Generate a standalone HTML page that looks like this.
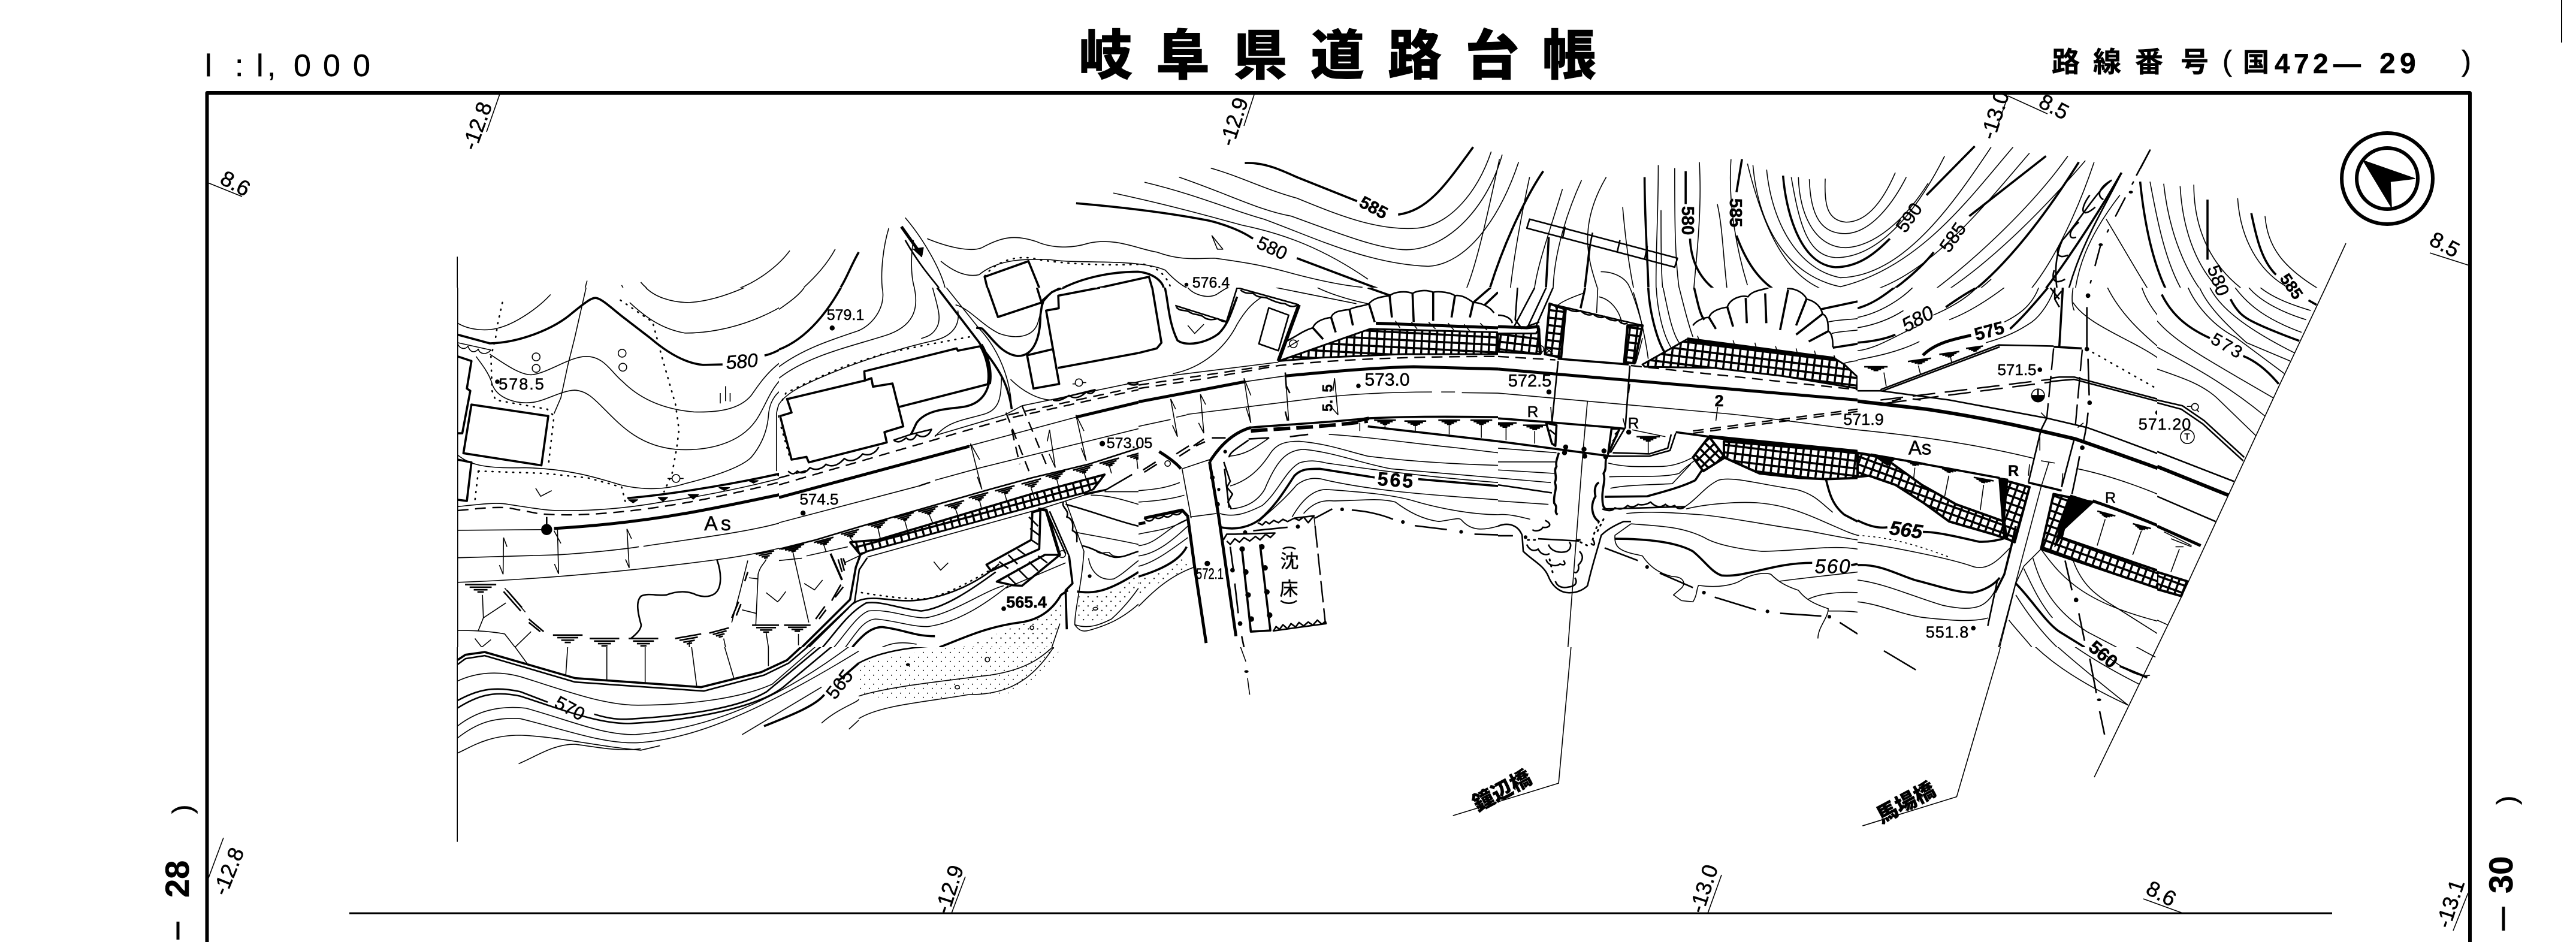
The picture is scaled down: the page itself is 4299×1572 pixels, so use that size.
<!DOCTYPE html>
<html><head><meta charset="utf-8"><style>
html,body{margin:0;padding:0;background:#fff}
svg{display:block}
path,line,polyline,polygon,ellipse,circle{vector-effect:non-scaling-stroke;fill:none;stroke:#000;stroke-width:1.6;stroke-linejoin:round}
.m{stroke-width:2.6}.h{stroke-width:3.6}.b{stroke-width:5}.d{stroke-width:2.4;stroke-dasharray:18 11}.dt{stroke-width:2.6;stroke-dasharray:1.5 10;stroke-linecap:round}
.dd{stroke-width:2.5;stroke-dasharray:34 26 4 26;stroke-linecap:round}
.k{fill:#000}
.me{stroke-width:3}
text{font-family:"Liberation Sans","Noto Sans CJK JP",sans-serif;fill:#000;stroke:#000;stroke-width:.5;text-anchor:middle;dominant-baseline:central}
.s{text-anchor:start;dominant-baseline:auto}
</style></head><body>
<svg xmlns="http://www.w3.org/2000/svg" width="4299" height="1572" viewBox="0 0 4299 1572">
<defs>
<clipPath id="ct"><rect x="0" y="0" width="4299" height="480"/></clipPath>
<clipPath id="cb"><rect x="0" y="1080" width="4299" height="492"/></clipPath>
<clipPath id="c0"><rect x="760" y="480" width="540" height="600"/></clipPath>
<clipPath id="c1"><rect x="1300" y="480" width="600" height="600"/></clipPath>
<clipPath id="c2"><rect x="1900" y="480" width="600" height="600"/></clipPath>
<clipPath id="c3"><rect x="2500" y="480" width="600" height="600"/></clipPath>
<clipPath id="c4"><rect x="3100" y="480" width="500" height="600"/></clipPath>
<clipPath id="c5"><rect x="3600" y="480" width="600" height="600"/></clipPath>
<pattern id="mA" width="12.5" height="12.5" patternUnits="userSpaceOnUse" patternTransform="scale(2.613) rotate(-15)"><path d="M0,0H12.5M0,0V12.5" style="stroke-width:7;vector-effect:none"/></pattern>
<pattern id="mB" width="12.5" height="12.5" patternUnits="userSpaceOnUse" patternTransform="scale(2.613) rotate(3)"><path d="M0,0H12.5M0,0V12.5" style="stroke-width:7;vector-effect:none"/></pattern>
<pattern id="mC" width="12.5" height="12.5" patternUnits="userSpaceOnUse" patternTransform="scale(2.613) rotate(7)"><path d="M0,0H12.5M0,0V12.5" style="stroke-width:7;vector-effect:none"/></pattern>
<pattern id="mD" width="12.5" height="12.5" patternUnits="userSpaceOnUse" patternTransform="scale(2.613) rotate(20)"><path d="M0,0H12.5M0,0V12.5" style="stroke-width:7;vector-effect:none"/></pattern>
<pattern id="mE" width="12.5" height="12.5" patternUnits="userSpaceOnUse" patternTransform="scale(2.613) rotate(45)"><path d="M0,0H12.5M0,0V12.5" style="stroke-width:7;vector-effect:none"/></pattern>
<pattern id="pd" width="15" height="15" patternUnits="userSpaceOnUse" patternTransform="scale(1.094,1.995)"><circle cx="3" cy="3" r="1" class="k" style="stroke:none"/><circle cx="10" cy="11" r="1" class="k" style="stroke:none"/></pattern>
<pattern id="pc" width="40" height="40" patternUnits="userSpaceOnUse"><circle cx="8" cy="8" r="3" class="k" style="stroke:none"/><circle cx="28" cy="28" r="3" class="k" style="stroke:none"/></pattern>
<g id="tk"><path d="M-34,0H34M-24,7H24M-15,14H15M-7,20H7" class="m"/></g>
</defs>
<rect width="4299" height="1572" fill="#fff"/>

<!-- frame -->
<path d="M345.5,1572V155H4122V1572" style="stroke-width:6"/>
<path d="M583,1524H3892" style="stroke-width:3"/>
<path d="M4275,0V71" style="stroke-width:2"/>

<!-- heading -->
<text class="s" x="342 392 428 446 490 539 589" y="127" font-size="52">l:l,000</text>
<text class="s" x="1800 1929 2058 2187 2316 2445 2574" y="124" font-size="90" font-weight="900">岐阜県道路台帳</text>
<text class="s" x="3424 3493 3563 3639" y="120" font-size="47" font-weight="700">路線番号</text>
<text class="s" x="3709" y="118" font-size="48">(</text>
<text class="s" x="3743" y="119" font-size="44" font-weight="700">国</text>
<text class="s" x="3796 3828 3860 3894" y="122" font-size="46" font-weight="700">472—</text>
<text class="s" x="3971 4005" y="122" font-size="48" font-weight="700">29</text>
<text class="s" x="4108" y="118" font-size="48">)</text>
<text transform="translate(315,1498) rotate(-90)" class="s" font-size="56" font-weight="700">28</text>
<text transform="translate(320,1358) rotate(-90)" class="s" font-size="46">)</text>
<path d="M297,1538V1568" class="b"/>
<text transform="translate(4193,1491) rotate(-90)" class="s" font-size="56" font-weight="700">30</text>
<text transform="translate(4199,1343) rotate(-90)" class="s" font-size="46">)</text>
<path d="M4178,1513V1553" class="b"/>

<!-- grid ticks -->
<path d="M834,157L812,220M347,305L404,328M2093,158L2076,210M3351,160L3333,212M3351,160L3417,190M4055,422L4121,443M373,1398L345,1473M1611,1463L1588,1524M2873,1460L2850,1524M3577,1500L3643,1524M4119,1490L4094,1553"/>
<g font-size="36">
<text transform="translate(796,210) rotate(-70)">-12.8</text>
<text transform="translate(393,306) rotate(28)">8.6</text>
<text transform="translate(2059,203) rotate(-72)">-12.9</text>
<text transform="translate(3329,192) rotate(-72)">-13.0</text>
<text transform="translate(3428,178) rotate(28)">8.5</text>
<text transform="translate(4080,408) rotate(28)">8.5</text>
<text transform="translate(381,1454) rotate(-68)">-12.8</text>
<text transform="translate(1584,1484) rotate(-72)">-12.9</text>
<text transform="translate(2843,1483) rotate(-72)">-13.0</text>
<text transform="translate(3607,1491) rotate(28)">8.6</text>
<text transform="translate(4089,1508) rotate(-72)">-13.1</text>
</g>

<!-- north arrow -->
<circle cx="3984" cy="298" r="76" style="stroke-width:6"/>
<circle cx="3984" cy="298" r="51" style="stroke-width:6"/>
<polygon points="3944,268 4030,298 3989,303 3991,346" class="k"/>

<!-- right boundary -->
<path d="M3915,406L3881,480L3803,645L3719,826L3640,997L3600,1080L3495,1297"/>

<g clip-path="url(#ct)">
<!-- Z1 -->
<g transform="translate(0,0) scale(.914,.501)">
<path d="M835,855V1000"/>
<path d="M1170,940C1190,985 1230,1005 1265,1005M1442,835C1420,890 1380,940 1350,960M1135,1000C1140,1000 1145,980 1135,950M1525,830C1510,880 1490,920 1468,957M1072,935C1068,960 1066,980 1062,1000"/>
<path class="h" d="M1568,840C1555,880 1545,930 1535,957"/>
</g>
<!-- Z2 -->
<g transform="translate(1433,0) scale(.914,.501)">
<path class="h" d="M705,543C740,540 770,565 800,590L910,670M985,715C1040,700 1070,620 1122,490M397,677C480,690 570,710 640,735C670,748 700,770 720,795M800,860L975,980M1250,570C1220,650 1180,800 1153,957M1510,570L1510,680M1518,795C1520,880 1540,930 1560,960M1260,790L1255,957M1335,820L1326,957M1435,590C1435,720 1440,850 1442,957"/>
<path d="M643,560C700,590 740,630 800,660C880,720 950,770 1020,760C1080,750 1130,640 1155,505M585,590C680,650 730,700 790,720C880,780 950,830 1000,832C1080,830 1150,680 1175,515M522,607C620,650 680,700 740,730C830,790 930,880 1040,887C1110,880 1170,730 1205,540M465,643C560,680 640,720 700,750C780,780 850,830 930,930M125,795C165,825 205,840 225,825C260,790 285,780 325,805C350,825 385,830 420,810C470,790 510,830 545,840C590,870 620,860 650,860C690,870 730,880 780,905C830,930 880,950 920,957M150,870C170,900 195,925 220,915C250,870 290,860 350,865C400,880 510,860 560,900C575,930 590,950 600,960M85,725C120,800 150,900 158,960M100,800C95,850 95,920 102,960M43,960C40,900 45,820 55,760M1225,590C1205,760 1195,880 1190,960M1285,630C1260,780 1240,880 1234,960M1320,600C1290,720 1270,850 1268,960M1365,590C1310,760 1335,880 1349,960M1355,905C1385,905 1405,935 1408,960M1395,690C1400,800 1408,900 1415,960M1460,550C1460,720 1455,850 1456,960M1490,560C1490,720 1490,850 1498,960M1465,700C1465,800 1465,900 1468,960M1535,540C1540,700 1530,850 1525,960M1170,530C1150,700 1130,870 1110,960"/>
<path class="dt" d="M230,920C250,870 290,845 330,865C380,880 450,885 520,880C550,890 565,930 570,960"/>
<path class="m" d="M1225,730L1495,860L1490,890L1220,760ZM1290,755L1285,795M1340,775L1335,820M1390,800L1385,840M1440,820L1435,865"/>
<path class="b" d="M78,755L115,850"/>
<polygon class="k" points="100,830 118,825 115,855"/>
<path class="m" d="M85,800C110,880 130,920 147,960"/>
<path class="h" d="M235,960L230,922L310,870L330,960M436,960L530,922L536,960M372,960C410,925 460,905 510,905C540,910 555,940 557,960"/>
<path d="M645,785L655,830L665,830Z"/>
</g>
<!-- Z3 -->
<g transform="translate(2866,0) scale(.914,.501)">
<path d="M325,575C300,680 270,740 235,740C200,735 195,680 197,595M345,590C320,680 280,775 235,778C190,780 170,720 168,597M385,610C340,740 285,820 235,825C180,825 150,720 148,590M415,520C360,720 290,860 215,858C165,850 150,750 135,590M500,490C430,680 340,920 225,925C150,900 100,750 90,565M540,490C460,660 370,890 225,955C130,920 75,760 65,550M570,510C480,700 370,960 240,985C160,970 100,880 55,545M212,1050C270,1080 330,1050 370,1000C450,900 570,700 640,520M212,1090C280,1085 350,1050 400,990C490,890 590,710 672,535M215,1120C300,1100 370,1040 420,990M235,1200C330,1150 430,1080 510,1055C570,1020 640,800 688,540M220,1170C300,1130 360,1090 410,1040C450,1000 470,980 500,930M0,680C10,760 10,850 20,1000M25,530C20,650 30,800 55,950"/>
<path class="h" d="M120,585C125,700 150,880 215,890C260,890 290,840 315,795M382,650L470,487M45,530L35,640M35,785C50,860 70,920 100,960M170,1000L250,1028C300,1010 370,900 395,840M460,720L600,520M420,1020C470,990 560,830 660,540M535,1095C590,1010 690,730 738,575"/>
<path class="m" d="M720,600C690,640 660,740 630,800C610,880 620,960 625,1020M720,600C700,620 690,650 705,665M680,650C660,700 665,730 690,690M660,740C640,770 640,800 655,790M630,800C615,840 620,865 640,850M615,900C610,930 615,950 635,930"/>
<path d="M735,650C680,780 650,900 650,1050M710,730C740,820 780,950 800,1000"/>
<path class="m" d="M738,575C700,720 630,900 625,1155"/>
<path class="dd" d="M790,500L750,640L700,815L675,985"/>
<path class="m" d="M790,500L765,585"/>
<circle cx="755" cy="640" r="3" class="k"/><circle cx="700" cy="815" r="3" class="k"/>
<path class="h" d="M772,605C780,750 800,950 850,1050M895,665L895,865M940,1005C960,1060 1010,1090 1062,1135M975,710C985,800 995,870 1020,915"/>
<path d="M790,605C810,800 830,980 900,1080M815,612C825,780 860,950 920,1040M845,620C850,780 880,940 960,1030M870,615C870,760 900,900 980,990M950,660C955,800 990,900 1035,950C1060,980 1085,1020 1090,1040M1000,720C1005,820 1030,890 1105,970"/>
<path class="m" d="M1097,985L1085,1025"/>
</g>
</g>

<text transform="translate(2292,347) rotate(28)" font-size="29" font-weight="700">585</text>
<text transform="translate(2123,414) rotate(25)" font-size="31">580</text>
<text x="2021" y="472" font-size="25">576.4</text><circle cx="1980" cy="475" r="2.5" class="k"/>
<text transform="translate(2816,368) rotate(90)" font-size="29" font-weight="700">580</text>
<text transform="translate(3186,363) rotate(-55)" font-size="31">590</text>
<text transform="translate(3259,396) rotate(-55)" font-size="31">585</text>
<text transform="translate(2896,355) rotate(90)" font-size="29" font-weight="700">585</text>
<text transform="translate(3702,468) rotate(70)" font-size="31">580</text>
<text transform="translate(3824,478) rotate(55)" font-size="27" font-weight="700">585</text>

<!-- C0 -->
<g clip-path="url(#c0)"><g transform="translate(760,480) scale(.3827)">
<path d="M10,0V1568"/>
<path d="M10,155C60,185 130,190 180,178C260,160 360,90 415,30M830,0C870,40 940,65 1020,65C1100,60 1180,35 1260,0M760,65C830,130 900,180 1000,198C1200,200 1420,110 1530,0M150,290C210,330 280,380 330,380C400,375 500,300 570,300C650,300 680,370 730,410C800,480 900,530 1040,542C1150,545 1240,530 1290,470C1340,400 1400,300 1568,255M90,300C120,340 150,380 160,420C180,480 260,510 340,500C400,490 460,450 520,447C570,450 600,480 640,520C720,600 800,690 960,705C1100,715 1240,680 1310,580C1360,510 1380,400 1480,360L1568,335M10,730C60,770 120,790 300,785C500,790 620,830 720,860C820,885 920,880 1000,855C1100,830 1240,790 1290,740C1340,680 1360,620 1365,560C1370,480 1410,420 1568,390M1400,800L1400,550C1410,490 1430,470 1500,420L1568,395M570,0L520,220L490,340L460,480L430,550"/>
<path class="h" d="M10,205L150,243C280,240 430,180 510,110C560,70 590,45 610,45C630,45 660,70 720,120L850,220C920,280 1000,330 1080,337L1165,335M1348,296C1400,285 1480,240 1568,150"/>
<path class="dt" d="M205,65L185,155L175,220L155,300L160,450L175,490L400,530L430,560L405,780M720,55L860,150L900,300L960,510L975,620L965,700L945,810L910,890M100,800L390,810L580,830L725,870L745,950M100,800L85,930M1410,560L1445,770"/>
<circle cx="352" cy="302" r="17"/><circle cx="352" cy="352" r="17"/><circle cx="727" cy="286" r="17"/><circle cx="730" cy="347" r="17"/><circle cx="962" cy="832" r="17"/>
<path d="M925,832H945M980,832H995"/>
<path d="M10,245C20,270 45,270 55,255C65,285 85,285 100,268C105,290 135,295 155,272L10,240"/>
<path class="h" d="M10,300L70,320L50,440L65,450L30,635L10,635M70,510L405,560L375,775L35,722ZM10,750L70,762L50,930L10,925M1568,460L1448,485L1465,545L1418,565L1465,748L1530,735L1540,755L1568,750"/>
<path d="M1155,460V505M1178,430V495M1198,460V497"/>
<path d="M10,955C100,945 180,935 230,945C300,955 380,970 440,972C600,975 760,960 900,935C1150,900 1400,840 1568,790"/>
<path class="d" d="M10,972C90,965 160,955 230,960L360,985C400,990 470,992 540,990C700,985 900,960 1100,920C1300,880 1450,840 1568,805"/>
<path class="b" d="M430,1050C600,1040 800,1020 1000,985C1200,950 1400,905 1568,870"/>
<path d="M10,1058L395,1055M10,1178L450,1165C600,1155 740,1140 800,1130M820,1128C1000,1100 1250,1070 1400,1030C1480,1010 1520,1000 1568,985M10,1285C300,1275 700,1245 1150,1185C1300,1165 1450,1130 1568,1095"/>
<circle cx="398" cy="1055" r="22" class="k"/><path class="m" d="M398,1000V1040"/>
<path d="M210,1090L208,1250M210,1090L225,1130M208,1250L192,1210M445,1050L450,1248M430,1060L460,1115M450,1248L432,1205M748,1052L758,1222M748,1052L768,1095M758,1222L742,1185"/>
<path d="M350,875L372,910L420,885M1355,1330L1405,1370L1445,1325M1520,1285L1568,1320M85,1530L115,1568L155,1535"/>
<path class="h" d="M750,918C900,905 1150,870 1420,810"/>
<path class="k" d="M755,925H795L775,938ZM885,915H925L905,932ZM1015,902H1060L1037,922ZM1150,872H1195L1172,884ZM1280,842H1320L1300,852ZM1400,815H1440L1418,825Z"/>
<path d="M1450,805C1460,820 1475,820 1490,800C1500,815 1520,810 1530,790L1568,780"/>
<path class="m" d="M1140,1185C1160,1240 1165,1310 1130,1335C1100,1355 1060,1345 1040,1335C1000,1320 960,1325 920,1340C880,1345 840,1330 810,1345C790,1365 790,1400 810,1470C810,1490 790,1510 765,1530"/>
<path d="M1275,1190L1240,1330L1205,1460M1250,1405L1310,1420M1280,1265L1320,1270M1310,1470L1320,1250C1330,1210 1350,1200 1355,1185M1475,1140L1540,1470"/>
<path class="m" d="M1262,1280L1275,1240M1225,1430L1245,1380M1205,1440L1235,1370"/>
<use href="#tk" transform="translate(110,1295) scale(2,1.6)"/><use href="#tk" transform="translate(490,1515) scale(1.9,1.6)"/><use href="#tk" transform="translate(650,1530) scale(1.9,1.6)"/><use href="#tk" transform="translate(820,1530) scale(1.9,1.6)"/><use href="#tk" transform="translate(1015,1520) rotate(-10) scale(1.7,1.6)"/><use href="#tk" transform="translate(1150,1495) rotate(-15) scale(1.3,1.4)"/><use href="#tk" transform="translate(1355,1472) scale(1.8,1.5)"/><use href="#tk" transform="translate(1495,1470) scale(1.8,1.5)"/><use href="#tk" transform="translate(1350,1155) rotate(-10) scale(1.2,1.2)"/><use href="#tk" transform="translate(1465,1128) rotate(-15) scale(1.4,1.2)"/>
<path d="M118,1340L122,1440L100,1495M122,1440L220,1375M215,1310L305,1415M10,1495C50,1495 130,1495 215,1510L260,1568L330,1500M1355,1505L1365,1568M1495,1505V1568M1170,1530L1178,1568M1020,1540V1568"/>
<path class="m" d="M210,1325L285,1410M225,1320L290,1395M320,1445L385,1500M320,1460L370,1500"/>
<path class="h" d="M1500,1568L1568,1500"/>
<circle cx="1518" cy="982" r="8" class="k"/>
</g></g>

<!-- C1 -->
<g clip-path="url(#c1)"><g transform="translate(1300,480) scale(.3827)">
<polygon points="310,1110 430,1100 1100,900 1420,815 1370,880 1330,895 1140,945 385,1150 355,1165" style="fill:url(#mA);stroke-width:3"/>
<path class="h" d="M270,0C220,90 130,220 0,270"/>
<path d="M0,95C50,60 90,30 110,0M450,0C470,90 400,170 340,190C220,230 100,270 0,345M590,0C610,90 590,170 460,210C300,260 120,300 0,395M780,100C790,160 760,210 680,230C500,270 260,350 100,430C40,460 10,490 0,510M670,0C690,80 710,130 690,170C670,210 640,215 620,222"/>
<path class="dt" d="M830,215L640,250L450,290L280,345L120,415L30,460L5,510M10,610L50,750"/>
<path class="h" d="M690,0L870,235L900,280"/>
<path class="b" style="stroke-width:7" d="M880,250C910,300 925,370 915,420"/>
<path class="h" d="M915,420C900,480 860,515 790,522C720,530 640,535 600,590C590,610 585,625 575,640M860,175L885,178C930,220 970,290 1040,298C1110,300 1140,220 1140,120L1150,55L1190,20L1230,0M900,280C960,360 1000,420 1015,530"/>
<path d="M730,0L870,175C960,270 1010,400 1015,530M770,75C830,90 880,160 960,200C1030,225 1110,220 1130,150L1155,60L1190,20L1250,0M970,390C970,480 960,530 900,550C800,580 740,580 680,650M1010,400C1060,450 1130,490 1190,490"/>
<path class="h" d="M40,485L375,405L403,395L410,432L495,418L542,605L460,630L470,675L130,762L120,738L55,750L5,560L55,545L35,485ZM375,405L372,365L775,265L780,275L880,255M525,520L915,420M910,0L955,128L1145,65L1125,0M1082,295L1195,268L1222,420L1110,440ZM1217,350L1568,285M1195,268L1165,100L1220,90L1218,35L1400,0M1165,100L1222,420"/>
<circle cx="1308" cy="414" r="16"/><path d="M1280,420H1292M1325,414H1340"/>
<path class="m" d="M40,800C60,820 70,810 80,800C100,815 120,805 135,785C160,800 190,790 205,770C230,785 260,775 285,745C310,765 345,750 365,725C390,735 420,725 435,695M500,665C520,680 535,670 555,655C570,670 590,665 600,640C620,655 650,655 665,618L575,640L500,665M1195,490C1220,500 1250,480 1265,470C1290,490 1320,475 1340,455C1360,470 1375,455 1378,445L1195,490M1520,415C1535,430 1568,425 1568,415L1520,415"/>
<path class="d" d="M0,860L1000,570L1568,445"/><path class="d" d="M1000,555L1568,432M0,830L130,795"/>
<path d="M680,645L985,555L1060,515L1568,410"/>
<path class="b" d="M0,915L830,692M1295,565L1568,500"/>
<path d="M830,690L1295,565M0,1025L610,865M680,840L880,785L1568,615"/>
<path class="d" style="stroke-dasharray:20 10" d="M610,865L670,845"/>
<path class="m" d="M0,1140L160,1100L360,1040L900,885L1100,830L1350,770L1568,700"/>
<path d="M120,1170L300,1130M0,1190L100,1180"/>
<use href="#tk" transform="translate(60,1130) rotate(-12) scale(1.5,1)"/><use href="#tk" transform="translate(195,1100) rotate(-15) scale(1.3,1)"/><use href="#tk" transform="translate(310,1065) rotate(-15) scale(1.2,1.1)"/><use href="#tk" transform="translate(430,1025) rotate(-15) scale(1.3,1.1)"/><use href="#tk" transform="translate(545,992) rotate(-15) scale(1.3,1.1)"/><use href="#tk" transform="translate(650,965) rotate(-15) scale(1.3,1.1)"/><use href="#tk" transform="translate(765,940) rotate(-15) scale(1.3,1.1)"/><use href="#tk" transform="translate(870,905) rotate(-15) scale(1.3,1.1)"/><use href="#tk" transform="translate(985,875) rotate(-15) scale(1.3,1.1)"/><use href="#tk" transform="translate(1100,845) rotate(-15) scale(1.3,1.2)"/><use href="#tk" transform="translate(1205,812) rotate(-15) scale(1.3,1.1)"/><use href="#tk" transform="translate(1325,785) rotate(-15) scale(1.3,1.1)"/><use href="#tk" transform="translate(1440,755) rotate(-15) scale(1.3,1.1)"/><use href="#tk" transform="translate(1560,725) rotate(-15) scale(1.3,1.1)"/>
<path d="M60,1150L130,1460M195,1120L205,1150M310,1090L325,1110M432,1050L442,1095M548,1015L565,1075M655,990L672,1030M768,960L782,1000M875,930L885,970M985,900L995,935M1100,875L1115,920M1210,830L1220,870M1330,805L1345,850M1440,775L1450,810M1560,745L1565,790"/>
<path d="M835,680L885,880M835,680L875,750M885,880L865,825M1180,620L1205,785M1180,620L1170,670M1205,785L1178,725M1295,555L1340,755M1295,555L1330,625M1340,755L1318,700"/>
<path class="d" d="M990,545L1090,800M1060,515L1165,770M1015,620L1050,770"/>
<path class="h" d="M310,1110L430,1100L1100,900L1420,815L1370,880M310,1110L355,1165"/>
<path d="M385,1175L1140,965L1330,905L1420,885M285,1200L360,1165"/>
<path class="h" d="M355,1165L335,1220L310,1360L100,1568"/>
<path class="m" d="M385,1178L350,1230L330,1370L120,1568M1420,885L1540,815M1330,900L1430,880"/>
<path class="h" d="M225,1160L275,1275"/>
<path class="m" d="M258,1185L275,1240M270,1180L285,1235M280,1180L290,1210M230,1365L270,1295M245,1350L280,1305M160,1445L200,1390M175,1445L205,1405"/>
<path d="M110,1290L155,1318L190,1275M675,1195L705,1232L738,1200M0,1365L30,1325"/>
<use href="#tk" transform="translate(80,1472) scale(1.7,1.3)"/>
<path d="M85,1510V1560"/>
<path class="h" d="M905,1208L1100,1100L1105,980L1140,970L1135,1140L925,1235ZM950,1282L1160,1165L1225,1165L1060,1300L1020,1298Z"/>
<path class="m" d="M960,1195L1000,1225M1000,1165L1040,1205M1040,1140L1080,1170M1090,1000L1130,1040M1095,1050L1135,1080M1100,1100L1130,1120M1000,1260L1035,1295M1040,1225L1085,1270M1090,1195L1130,1235M1130,1170L1170,1200"/>
<path class="b" d="M1130,965L1165,970L1225,1170"/>
<path class="m" d="M1165,970L1250,1160"/>
<circle cx="1235" cy="1162" r="15"/>
<path class="m" d="M130,1568L300,1400C340,1350 400,1350 480,1360C560,1370 620,1365 680,1350C800,1320 900,1260 960,1205M190,1568C250,1500 300,1420 380,1375C450,1365 520,1400 620,1410C720,1400 850,1310 945,1240"/>
<path d="M240,1568C290,1510 340,1430 390,1410C480,1400 560,1440 640,1440C760,1420 900,1320 980,1300M290,1568C340,1500 370,1450 420,1445C500,1450 580,1480 650,1478C780,1460 900,1380 1000,1300M450,1568C480,1555 520,1540 600,1555M1225,1465L1190,1568M1250,1200L990,1310"/>
<path class="h" d="M320,1568C360,1520 400,1480 450,1480C540,1490 590,1520 680,1520M700,1568C800,1530 900,1480 1050,1460C1130,1450 1190,1410 1230,1340L1260,1320"/>
<path class="dt" style="stroke-dasharray:1.5 9" d="M360,1330C450,1345 600,1365 650,1355C760,1330 870,1260 950,1215"/>
<polygon points="800,1568 1050,1470 1190,1420 1250,1330 1225,1465 1190,1568" style="fill:url(#pc);stroke:none"/>
<polygon points="1310,1340 1430,1335 1568,1250 1568,1310 1450,1440 1295,1465" style="fill:url(#pc);stroke:none"/>
<path class="m" d="M1240,935C1230,960 1270,970 1255,1000C1290,1010 1280,1050 1280,1060C1310,1070 1295,1100 1300,1110"/>
<path d="M1250,930L1330,1150C1320,1300 1290,1400 1290,1470C1310,1500 1330,1500 1350,1495C1440,1470 1500,1440 1568,1380"/>
<path class="h" d="M1265,1170L1280,1290L1250,1320L1255,1490"/>
<path class="m" d="M1180,975L1265,1170"/>
<path d="M1420,890H1568M1360,905C1440,905 1500,925 1568,945M1285,1065C1360,1080 1480,1100 1568,1120M1350,1180C1360,1240 1400,1280 1460,1270C1500,1250 1540,1210 1568,1190M1290,1470C1350,1490 1400,1470 1450,1445C1500,1400 1540,1350 1568,1310"/>
<path class="m" d="M1250,945C1350,970 1480,1020 1568,1040M1320,1125C1370,1135 1400,1160 1460,1175C1500,1180 1530,1160 1568,1150"/>
<path class="h" d="M1300,1325C1370,1335 1430,1330 1568,1240"/>
<path d="M1380,1145C1400,1170 1420,1150 1440,1155C1460,1180 1490,1175 1530,1165"/>
<circle cx="1355" cy="1258" r="6" class="k"/><circle cx="1103" cy="1483" r="8"/><ellipse cx="1380" cy="1400" rx="10" ry="6"/>
<circle cx="232" cy="176" r="9" class="k"/><circle cx="105" cy="983" r="9" class="k"/><circle cx="980" cy="1400" r="8" class="k"/><circle cx="1410" cy="680" r="10" class="k"/>
</g></g>

<!-- C2 -->
<g clip-path="url(#c2)"><g transform="translate(1900,480) scale(.3827)">
<polygon points="612,320 1010,180 1568,195 1568,290 1150,290 800,305" style="fill:url(#mB);stroke-width:3"/>
<path class="h" d="M60,0L100,240L80,265L0,285"/>
<path class="h" d="M115,0C130,60 130,150 170,230C210,260 300,240 350,200C390,160 400,120 430,40"/>
<path class="m" d="M160,78L390,150M430,0L380,160M430,0L700,75M165,85C180,105 200,95 220,105C240,120 260,115 280,125C300,145 330,140 345,135C365,150 380,150 385,145M445,10C460,25 480,25 500,25C520,45 540,40 560,45C590,60 620,70 640,70C660,85 680,85 695,75M568,88L655,120L610,275L525,245Z"/>
<path d="M215,0C240,30 300,50 340,30C370,10 385,0 395,0M540,40C490,70 460,110 430,160C380,260 280,350 150,375M600,0L950,70M215,165L245,200L285,160M780,0C820,20 900,50 1000,70"/>
<path class="b" style="stroke-width:6" d="M700,75L610,320"/>
<path class="h" d="M1000,0L1100,35"/>
<path class="m" d="M640,235C680,220 710,190 760,175C770,150 800,135 840,130C850,100 890,100 920,95C950,80 990,80 1005,70C1030,40 1070,40 1095,35C1120,15 1170,15 1195,25C1220,10 1260,10 1285,20C1310,15 1360,20 1380,35C1410,30 1440,50 1460,65C1490,65 1530,80 1550,110"/>
<path class="h" d="M1095,35L1105,130M1195,25L1200,150M1285,20L1285,145M1380,35L1365,130M1460,65L1445,130M1005,70L1030,150M920,95L935,165M840,130L860,195M760,175L805,225M1460,65L1535,0M1510,75L1568,20"/>
<path class="b" d="M1035,155L1568,175"/>
<path d="M1120,145L1140,175M1190,150L1215,180M1265,150L1295,180M1350,155L1375,185M1420,160L1445,190M1490,155L1520,185"/>
<circle cx="675" cy="245" r="17"/><path d="M650,260L700,230"/>
<path d="M0,410L130,385L610,325"/>
<path class="d" d="M0,440L300,395L610,340C800,320 1100,300 1568,300M0,425L300,380L600,335"/>
<path class="b" d="M0,498L465,410M640,385C800,370 1000,350 1200,345L1568,355"/>
<path d="M465,410L640,385M0,605L140,575M165,565L210,555M210,553L750,485C900,465 1100,455 1280,455M1320,455L1380,455M1410,458L1568,460"/>
<path class="h" d="M490,610C600,600 800,590 1000,570C1200,560 1400,562 1568,565"/>
<path class="b" d="M490,610C420,630 360,680 310,760"/>
<path class="d" style="stroke-width:6;stroke-dasharray:28 10" d="M490,625C600,615 800,610 1000,582"/>
<path class="b" style="stroke-width:6" d="M955,580L1005,570"/>
<path class="h" d="M1000,605L1568,670"/>
<use href="#tk" transform="translate(1075,578) scale(1.4,.9)"/><use href="#tk" transform="translate(1207,582) scale(1.4,.9)"/><use href="#tk" transform="translate(1355,578) scale(1.4,.9)"/><use href="#tk" transform="translate(1495,578) scale(1.4,.9)"/>
<path d="M1075,600V615M1207,600V630M1355,600V640M1495,600V655M965,590V625"/>
<path class="m" d="M165,725L220,690M178,735L225,705M240,690L285,660M250,690L290,672M320,655L380,655M480,660L570,655M660,650L740,640"/>
<path d="M830,640C1000,650 1200,680 1400,700L1568,720M395,735C470,730 520,690 570,655M400,865C480,840 530,790 570,730C600,680 640,670 700,670C820,680 900,710 1000,735C1200,760 1400,770 1568,775M400,965C470,960 520,930 550,880C600,760 640,710 720,705C860,720 950,760 1100,790L1568,830M355,985C420,1005 480,980 540,950C610,890 640,800 700,765C740,750 780,755 820,765C1000,790 1200,820 1568,850M525,1020C590,960 640,920 690,860C730,830 770,825 820,840C1000,880 1200,900 1568,925M670,1000C710,930 760,880 820,880C950,890 1100,900 1200,930C1300,960 1450,990 1568,990M720,985C760,940 800,925 850,930C950,930 1050,915 1120,935C1180,980 1240,1010 1310,1020C1380,1010 1400,1000 1410,1015C1450,1060 1500,1060 1568,1040"/>
<path class="h" d="M360,1045C430,1060 490,1040 530,1010C600,950 640,880 680,820C710,790 740,790 790,790L1030,828M1220,835L1568,865"/>
<path d="M190,790L230,1005M190,790L310,750M225,1000L340,985M460,395L490,590M460,395L490,470M490,590L470,525M640,370L655,580M270,465L285,635M270,465L293,510M285,635L262,590M140,485L170,650M140,485L162,530M170,650L148,600M855,395L870,555M855,395L848,450M870,555L840,520"/>
<path class="m" d="M640,370L645,440M645,430L660,460M650,580L640,540"/>
<path class="b" d="M185,790C165,765 130,740 90,715"/>
<path class="m" d="M20,795L75,760M25,805L80,770"/>
<circle cx="127" cy="767" r="12"/>
<path class="b" d="M310,760L350,1000L425,1520M215,1000L245,1220L295,1550"/>
<path class="m" d="M400,1130L415,1240M420,1290L435,1420M450,1520L460,1568"/>
<circle cx="410" cy="1232" r="8" class="k"/><circle cx="443" cy="1465" r="8" class="k"/><circle cx="300" cy="1203" r="10" class="k"/><circle cx="322" cy="828" r="8" class="k"/><circle cx="345" cy="945" r="8" class="k"/><circle cx="378" cy="715" r="6" class="k"/><circle cx="350" cy="880" r="5" class="k"/>
<path class="m" d="M372,760L385,800L400,845L385,870L410,900L390,935L405,965M375,790L395,960M395,740C395,720 430,700 480,665"/>
<path class="m" d="M770,1005L845,965M930,970C1000,975 1060,990 1110,1010M1205,1038L1345,1055M1465,1075L1568,1078"/>
<circle cx="888" cy="967" r="6" class="k"/><circle cx="1153" cy="1022" r="6" class="k"/><circle cx="1407" cy="1065" r="6" class="k"/>
<path class="m" d="M520,1025L540,1035L555,1020L570,1030L590,1015L610,1025L630,1010L650,1020L680,1005L700,1015L720,1000L740,1025L765,995L680,1005M500,1060L650,1045M370,1100L385,1075L420,1075M385,1105L400,1120L420,1095L440,1110L460,1090L485,1105L510,1085L530,1100L555,1075L575,1090L595,1070L420,1075"/>
<circle cx="465" cy="1067" r="7" class="k"/><circle cx="695" cy="1042" r="7" class="k"/>
<path d="M765,995L770,1040"/>
<path class="d" style="stroke-dasharray:36 10" d="M770,1040L815,1465"/>
<path class="m" d="M590,1495L600,1478L615,1490L630,1470L650,1488L665,1465L685,1480L700,1460L720,1475L740,1458L760,1472L780,1450L800,1468L815,1455L818,1465L585,1497"/>
<path class="h" d="M450,1130L490,1500L575,1495L530,1120"/>
<circle cx="452" cy="1140" r="10" class="k"/><circle cx="468" cy="1240" r="10" class="k"/><circle cx="478" cy="1340" r="10" class="k"/><circle cx="492" cy="1445" r="10" class="k"/><circle cx="538" cy="1130" r="10" class="k"/><circle cx="552" cy="1222" r="10" class="k"/><circle cx="560" cy="1327" r="10" class="k"/><circle cx="572" cy="1428" r="10" class="k"/>
<path class="m" d="M25,1005C40,1025 60,1020 70,1000C85,1012 100,1005 110,995C125,1005 140,1000 150,985C165,995 180,990 190,975L25,1005"/>
<path class="b" d="M0,1030L30,1025M25,1005L190,970L218,1000"/>
<path d="M0,1075C60,1060 130,1060 215,1010M0,1125C80,1120 130,1040 215,1010M0,1170C80,1160 150,1100 215,1040M0,1390C60,1330 130,1260 240,1220M0,885C80,880 130,870 180,850M0,935C80,930 150,920 200,905M0,1215C70,1200 160,1130 215,1090"/>
<path class="h" d="M0,1260C100,1230 180,1190 210,1130"/>
<polygon points="0,1270 100,1240 200,1170 235,1220 100,1280 0,1350" style="fill:url(#pc);stroke:none"/>
<path class="m" d="M630,1140C640,1130 670,1130 685,1140M620,1365C640,1380 670,1380 690,1365"/>
</g></g>

<!-- C3 -->
<g clip-path="url(#c3)"><g transform="translate(2500,480) scale(.3827)">
<polygon points="0,200 165,200 180,180 185,290 0,280" style="fill:url(#mC);stroke-width:3"/>
<polygon points="225,70 295,95 275,305 205,290" style="fill:url(#mC);stroke-width:4"/>
<polygon points="565,165 630,165 595,330 550,325" style="fill:url(#mC);stroke-width:4"/>
<polygon points="630,335 825,225 1470,310 1510,335 1568,390 1568,440 1240,385 940,350 640,345" style="fill:url(#mC);stroke-width:3"/>
<polygon points="985,670 1568,720 1568,830 1430,835 1320,830 1140,810 985,740" style="fill:url(#mC);stroke-width:4"/>
<polygon points="850,740 920,650 990,740 895,800" style="fill:url(#mE);stroke-width:4"/>
<path class="m" d="M0,120C40,120 60,140 62,155M85,0L75,140L105,180M125,170L180,150"/>
<path class="b" d="M0,170L125,175L175,170L185,290"/>
<path class="m" d="M225,70L630,165M290,85C310,100 340,110 360,100C375,115 395,125 415,115C430,130 455,135 465,125C480,140 510,150 525,140C535,160 555,160 565,155"/>
<path class="m" d="M210,0L130,170M160,0L70,170M240,0L165,170"/>
<path class="h" d="M380,0L360,90M655,0C660,100 690,220 725,280"/>
<path d="M435,0L430,110M370,25C300,50 260,70 250,90M440,40C490,50 530,100 540,155M575,0C600,60 620,130 630,170M590,20C610,80 640,200 655,310M690,0C695,100 720,210 760,270M720,0C740,100 760,200 790,240M790,0C810,80 830,160 850,215M630,220C620,260 610,300 600,330"/>
<path class="h" d="M855,0C870,60 880,120 900,140"/>
<path class="m" d="M850,165C860,150 890,130 920,130C930,100 970,90 1000,85C1010,50 1060,30 1090,40C1110,10 1160,10 1180,0M1260,5C1300,0 1340,30 1345,50C1390,60 1410,90 1415,115C1440,125 1440,165 1440,190C1460,200 1460,240 1460,260"/>
<path class="h" d="M920,130L950,180M1000,85L1025,170M1080,45L1085,155M1165,25L1170,155M1265,10L1230,185M1345,50L1300,165M1415,115L1300,205M1440,190L1355,235M1405,95L1568,60M1460,262L1568,245"/>
<path d="M1440,150C1480,140 1530,140 1568,135M1455,200C1490,190 1530,190 1568,185M1510,330C1540,320 1560,320 1568,318M1520,350L1568,390"/>
<path class="b" style="stroke-width:6" d="M825,225L1470,310"/>
<path d="M870,210L875,225M1025,230L1030,245M1120,240L1125,258M1210,255L1215,270M1300,265L1305,285M1380,275L1385,295M1465,295L1470,310"/>
<path class="d" d="M0,300L250,315M580,340L1568,445"/>
<path class="h" d="M260,310L570,335"/>
<path class="b" d="M0,355L1568,490"/>
<path d="M0,460L1000,550C1200,570 1400,600 1568,620"/>
<path class="d" d="M850,625L1568,530M850,635L1568,540"/>
<path class="h" d="M0,570L200,585L500,610L550,615"/>
<path class="h" d="M775,630L920,650"/>
<path class="b" style="stroke-width:6" d="M920,650L1568,715"/>
<path class="h" d="M0,670L490,735"/>
<path class="m" d="M490,735L660,735L750,710L775,635M500,720L660,725L740,700L755,640"/>
<use href="#tk" transform="translate(30,590) scale(1.5,.9)"/><use href="#tk" transform="translate(160,600) scale(1.5,.9)"/><use href="#tk" transform="translate(655,650) scale(1.5,.9)"/>
<path d="M35,605V665M160,625V680M655,670V725M585,620L730,650"/>
<path class="m" d="M262,320L235,590M575,340L555,610L490,720"/>
<path d="M230,520L235,590M575,420L570,460M545,570L555,610"/>
<path class="h" d="M210,590L255,600L250,690L235,680ZM495,615L530,615L480,725Z"/>
<path class="m" d="M225,620L250,640M510,640L530,620M500,670L520,645"/>
<path d="M390,495L370,720L305,1568"/>
<circle cx="295" cy="695" r="9" class="k"/><circle cx="375" cy="705" r="9" class="k"/><circle cx="462" cy="712" r="9" class="k"/><circle cx="470" cy="738" r="9" class="k"/><circle cx="378" cy="735" r="9" class="k"/><circle cx="290" cy="720" r="9" class="k"/><circle cx="222" cy="455" r="9" class="k"/><circle cx="570" cy="630" r="9" class="k"/>
<circle cx="185" cy="268" r="15"/><path d="M205,260L240,290M205,290L240,260"/>
<path class="h" d="M265,720C260,740 250,760 255,780C240,800 260,820 248,850C260,880 240,900 245,940C265,960 240,975 260,990M472,740C465,770 475,790 460,810C470,840 455,870 455,910C455,950 460,960 470,965M440,850C420,860 420,890 425,910C400,950 410,1000 440,1020"/>
<path class="m" d="M0,860L235,895"/>
<path d="M0,700L255,720M0,760H250M0,795L245,810M0,830L230,850M0,930L220,945M0,990C40,985 100,1000 140,1010"/>
<path d="M480,765C560,785 620,780 700,780C780,780 830,750 860,735M485,825C600,820 720,830 790,810C820,780 850,760 870,745M490,875C560,860 670,860 760,855L840,770"/>
<path class="h" d="M465,912L650,910C720,890 800,870 860,840L890,795"/>
<path class="m" d="M455,965C480,975 500,975 510,960C530,970 550,965 565,950C580,960 600,955 610,945C630,950 650,945 665,935C690,960 710,960 730,945C745,960 760,955 770,950C785,970 805,965 815,955L470,965"/>
<path d="M815,955C870,920 900,870 960,840C1020,820 1150,860 1300,880C1380,900 1410,940 1460,980M820,965C900,945 1050,930 1150,940C1250,950 1330,980 1420,1020C1490,1050 1530,1070 1568,1080M560,985C650,975 750,980 880,990C1000,1000 1200,1040 1350,1060C1450,1080 1530,1095 1568,1100M580,1030C700,1040 800,1040 900,1090C950,1120 1050,1140 1150,1150C1300,1150 1450,1120 1568,1140M580,1030L510,1080C505,1130 530,1150 610,1165L630,1170C670,1230 720,1250 760,1260C810,1260 820,1290 800,1310L765,1340L800,1365L850,1370C870,1340 865,1310 875,1298C950,1310 1030,1300 1070,1270C1110,1250 1160,1240 1190,1250C1220,1280 1250,1300 1310,1320C1340,1360 1380,1380 1440,1400C1440,1440 1395,1480 1395,1530M1230,1280C1300,1270 1400,1260 1568,1240M1350,1360C1400,1335 1480,1325 1568,1330M1440,1410C1490,1410 1530,1410 1568,1415"/>
<path class="h" d="M1430,835C1445,900 1460,950 1510,990L1568,1020M510,1095C650,1095 780,1110 850,1150C900,1190 930,1240 975,1255C1080,1265 1200,1200 1370,1200M1540,1210L1568,1205"/>
<path class="m" d="M580,1020L548,1020C500,1040 470,1060 450,1080C440,1120 420,1180 400,1260L390,1300C370,1320 340,1330 320,1330C280,1335 240,1310 220,1260C200,1210 150,1190 110,1150L105,1080C90,1040 50,1020 0,1040"/>
<path class="m" d="M0,1082H65M175,1095L355,1105M465,1135L610,1190M705,1245L850,1308M945,1350L1125,1405M1230,1420L1410,1432M1490,1460L1568,1510"/>
<circle cx="120" cy="1088" r="6" class="k"/><circle cx="650" cy="1218" r="6" class="k"/><circle cx="898" cy="1330" r="6" class="k"/><circle cx="1175" cy="1412" r="6" class="k"/><circle cx="1445" cy="1435" r="6" class="k"/>
<path class="m" d="M150,1055C160,1065 190,1060 195,1045C225,1050 240,1030 205,1015M125,1120C140,1150 160,1150 175,1140C190,1170 215,1165 225,1160M220,1120C230,1150 270,1160 300,1150C320,1140 320,1115 310,1110M210,1185C215,1210 250,1220 270,1205C295,1215 295,1200 285,1190M250,1280C260,1310 290,1310 310,1305C345,1300 345,1280 335,1265M330,1240C345,1250 355,1230 350,1210C370,1190 375,1170 355,1150M340,1100H360M405,1115C420,1130 425,1120 415,1100"/>
<path class="dt" style="stroke-dasharray:2 8;stroke-width:3" d="M440,1020L420,1070L410,1110M460,1010L430,1070M130,1100L180,1100M360,1110L400,1130M225,1185L240,1250"/>
<path d="M958,520L950,580"/>
</g></g>

<!-- C4 -->
<g clip-path="url(#c4)"><g transform="translate(3100,480) scale(.3827)">
<polygon points="0,720 120,745 155,770 280,860 430,945 640,1020 650,1095 590,1075 400,1020 290,940 165,860 50,820 0,825" style="fill:url(#mD);stroke-width:4"/>
<polygon points="620,835 750,870 685,1110 640,1090" style="fill:url(#mD);stroke-width:4"/>
<polygon points="855,900 1025,935 900,1050 890,1090 1430,1275 1410,1345 800,1140" style="fill:url(#mD);stroke-width:4"/>
<polygon class="k" points="620,830 655,835 640,1020"/>
<polygon class="k" points="930,905 1025,935 900,1055 885,1090 860,1130 890,1010"/>
<polygon class="k" points="60,725 165,745 130,775"/>
<path class="h" d="M0,90C70,70 120,30 160,0M385,85C420,60 480,20 520,0M0,240C60,235 120,225 165,205M665,180C720,130 780,60 830,0M1320,0C1370,100 1440,170 1540,225"/>
<path d="M0,130C100,110 190,50 240,0M0,175C60,165 130,145 200,100M0,275C90,265 180,200 260,170M330,120C400,90 470,50 520,0M0,315C80,300 180,280 270,235M400,140C480,110 560,60 640,0M560,240C650,215 700,190 760,150C800,120 840,60 860,0M640,150C700,120 760,80 790,0M1240,0C1280,120 1400,230 1568,340M940,65C1000,160 1180,220 1300,300C1400,380 1500,440 1568,440M1090,0C1150,120 1250,210 1350,290"/>
<path class="b" d="M285,295C340,240 420,225 495,208"/>
<path class="m" d="M100,445L615,250L855,255M110,450L620,258"/>
<path class="h" d="M895,0L880,255M855,258L978,265"/>
<path d="M940,0C930,60 940,90 945,100"/>
<path class="m" d="M840,0L880,50M860,0L860,50L880,85M890,15L860,50"/>
<use href="#tk" transform="translate(80,345) scale(1.5,.8)"/><use href="#tk" transform="translate(270,315) rotate(-8) scale(1.5,.8)"/><use href="#tk" transform="translate(400,285) rotate(-8) scale(1.3,.8)"/><use href="#tk" transform="translate(510,260) rotate(-8) scale(1.1,.8)"/>
<path d="M115,370L125,430M265,340L275,380M405,300L410,325"/>
<path class="m" d="M1000,85L1000,265M1005,310L1010,470M1005,545C1000,600 990,650 985,670M968,735C960,780 950,830 935,900"/>
<circle cx="1005" cy="35" r="8" class="k"/><circle cx="1000" cy="268" r="8" class="k"/><circle cx="1012" cy="502" r="8" class="k"/><circle cx="980" cy="698" r="8" class="k"/><circle cx="795" cy="358" r="8" class="k"/><circle cx="1308" cy="545" r="8" class="k"/><circle cx="505" cy="1485" r="8" class="k"/><circle cx="953" cy="1362" r="8" class="k"/>
<path class="d" style="stroke-dasharray:36 10" d="M855,265L825,570M980,270L950,600"/>
<path class="m" d="M825,570L800,620L745,850M945,660L890,870"/>
<path class="h" d="M745,850L890,885"/>
<path d="M835,760L800,870L615,1568M800,545L825,570M960,610L985,590M795,650V710M750,770L745,820M895,810L890,870"/>
<path class="m" d="M750,870L680,1110M610,1275L568,1475"/>
<path class="h" d="M690,1040L670,1130L640,1250L600,1330"/>
<path d="M800,1140L725,1215L690,1290L620,1568"/>
<path class="d" style="stroke-dasharray:38 16" d="M100,490L840,400M115,505L840,412"/>
<path class="m" d="M840,395L880,390L945,390L1400,510L1568,640M840,410L885,405L945,400L1400,520L1568,655"/>
<circle cx="1470" cy="518" r="17"/><path d="M1430,515H1452M1480,535L1490,545"/>
<path class="dt" d="M1000,268L1410,500"/>
<path class="m" d="M0,450L100,450L400,490L830,570L1000,610C1200,680 1400,760 1568,820"/>
<path class="b" style="stroke-width:6" d="M0,495L300,530C500,560 650,590 800,625L950,660C1150,730 1350,800 1568,885"/>
<path class="m" d="M240,485L275,490M150,495L190,485"/>
<path d="M0,620C300,650 550,690 770,745M800,755L860,765M960,790C1150,830 1350,910 1568,1020"/>
<path class="h" d="M0,720L130,740L620,830"/>
<path class="b" d="M1025,930C1200,990 1350,1050 1500,1125"/>
<path d="M1330,1070L1460,1130"/>
<use href="#tk" transform="translate(250,760) rotate(10) scale(1.3,.7)"/><use href="#tk" transform="translate(400,790) rotate(10) scale(1.3,.7)"/><use href="#tk" transform="translate(550,835) rotate(10) scale(1.3,.7)"/><use href="#tk" transform="translate(1085,985) rotate(15) scale(1.2,.7)"/><use href="#tk" transform="translate(1240,1040) rotate(15) scale(1.2,.7)"/><use href="#tk" transform="translate(1405,1120) rotate(15) scale(1.2,.7)"/>
<path d="M250,785L245,830M398,820L380,910M550,860L535,970M1080,1010L1045,1125M1238,1060L1200,1165M1405,1135L1368,1240"/>
<path class="h" d="M0,1015C50,1040 90,1050 130,1045M285,1065C350,1065 450,1090 530,1108C580,1110 620,1100 650,1090M0,1210C100,1205 170,1250 250,1275C350,1300 430,1330 500,1330C560,1320 600,1290 620,1265M690,1290C760,1360 820,1460 880,1500L990,1568"/>
<path d="M0,1110C150,1130 400,1180 500,1215C570,1240 620,1180 670,1130M0,1275C120,1290 250,1350 370,1385C440,1400 500,1405 540,1385C570,1370 590,1340 600,1320M0,1370C100,1380 200,1430 300,1440C400,1450 500,1460 570,1440M765,1180C800,1300 850,1400 1000,1500L1130,1568M725,1225C770,1320 800,1380 850,1440M690,1340C740,1420 800,1500 870,1568M660,1450C700,1500 730,1530 760,1568M800,1140C900,1280 1000,1380 1350,1465M940,1190C980,1300 1040,1340 1120,1390L1310,1510"/>
<path class="dt" style="stroke-dasharray:2 7;stroke-width:1.6" d="M0,1080C150,1090 250,1120 400,1175"/>
<path class="m" d="M905,1190L935,1320M965,1420L990,1540"/>
<circle cx="787" cy="470" r="28"/><path class="k" d="M759,470A28,28 0 0 0 815,470Z"/><path class="m" d="M787,442V470"/>
<circle cx="1438" cy="650" r="30"/>
</g></g>

<!-- C5 -->
<g clip-path="url(#c5)"><g transform="translate(3600,480) scale(.3827)">
<path class="h" d="M20,30C60,110 120,170 230,220M375,298C430,320 480,360 530,420M320,50C350,110 380,130 420,150C480,180 560,210 620,232M660,55L695,75"/>
<path d="M135,0C170,80 250,170 340,215L555,375M185,0C220,80 300,160 390,240L580,320M230,0C270,80 370,170 600,285M340,0C400,80 480,140 630,195M400,0C450,60 550,110 650,140M450,0C500,40 570,70 670,100M0,145C80,240 250,330 350,390L505,480M0,260C150,340 300,420 470,560M0,355C100,390 200,420 270,490L430,645"/>
<path class="m" d="M0,490L110,515L205,580L380,740M0,502L105,530L200,595L375,755M0,715L335,845M0,910L255,1020"/>
<path class="b" style="stroke-width:6" d="M0,780L310,905"/>
<path class="b" d="M0,1040L190,1125"/>
<circle cx="165" cy="520" r="15"/><path d="M130,518H148M172,532L182,542"/>
<circle cx="132" cy="650" r="30"/>
<path d="M30,1065L150,1125M60,1095L150,1130M80,1130H115M97,1140L60,1240M0,1450L45,1470"/>
<polygon points="0,1240 130,1280 105,1345 0,1315" style="fill:url(#mD);stroke-width:4"/>
</g></g>

<!-- band labels -->
<text x="871" y="641" font-size="27" letter-spacing="2">578.5</text><circle cx="830" cy="637" r="3" class="k"/>
<text transform="translate(1238,603) rotate(-5)" font-size="32" font-style="italic">580</text>
<text x="1200" y="874" font-size="34" letter-spacing="5">As</text>
<text x="1367" y="833" font-size="26">574.5</text>
<text x="1411" y="526" font-size="25">579.1</text>
<text x="1713" y="1005" font-size="27" font-weight="700">565.4</text>
<text x="1885" y="740" font-size="25">573.05</text>
<text x="2315" y="634" font-size="30">573.0</text><circle cx="2267" cy="644" r="3" class="k"/>
<text x="2553" y="636" font-size="29">572.5</text>
<text transform="translate(2216,648) rotate(-90)" font-size="24" font-weight="700">5</text>
<text transform="translate(2216,677) rotate(-90)" font-size="24" font-weight="700">5.</text>
<text x="2558" y="687" font-size="26">R</text><text x="2726" y="706" font-size="26">R</text>
<text x="2330" y="801" font-size="32" font-weight="700" letter-spacing="3" transform="rotate(4 2330 801)">565</text>
<text x="2019" y="958" font-size="25" textLength="46" lengthAdjust="spacingAndGlyphs">572.1</text>
<text x="2152" y="937" font-size="31">沈</text>
<text x="2151" y="983" font-size="31">床</text>
<text x="2869" y="669" font-size="27" font-weight="700">2</text>
<text transform="translate(3059,945)" font-size="33" font-style="italic" letter-spacing="2">560</text>
<text transform="translate(3200,532) rotate(-28)" font-size="33" font-style="italic">580</text>
<text transform="translate(3320,553) rotate(-15)" font-size="30" font-weight="700">575</text>
<text x="3366" y="617" font-size="26">571.5</text>
<text x="3110" y="700" font-size="27">571.9</text>
<text x="3613" y="708" font-size="27" letter-spacing="1">571.20</text>
<text x="3650" y="729" font-size="15">T</text>
<text x="3204" y="747" font-size="33">As</text>
<text x="3360" y="786" font-size="25" font-weight="700">R</text>
<text x="3522" y="831" font-size="25">R</text>
<text transform="translate(3181,884) rotate(8)" font-size="33" font-weight="700" font-style="italic">565</text>
<text x="3250" y="1055" font-size="27" letter-spacing="1">551.8</text>
<text transform="translate(3717,578) rotate(30)" font-size="29" letter-spacing="3">573</text>

<g clip-path="url(#cb)">
<!-- Z4 -->
<g transform="translate(0,786) scale(.914,.501)">
<path d="M835,500V1235"/>
<path class="h" d="M835,630L850,612L885,603L1050,690L1280,720L1390,670L1437,630L1555,430L1568,300"/>
<path class="m" d="M835,645L850,625L885,615L1050,703L1285,733L1395,680L1440,640L1568,440"/>
<path d="M1037,575L1033,680M1108,585V695M1178,585V705M1262,575L1272,715M1318,555L1340,690M1403,540V650M875,530C900,530 920,540 930,560L962,640M945,585L970,530"/>
<path d="M835,700C870,670 910,665 950,685C1030,730 1100,780 1165,780C1250,780 1350,760 1410,710L1568,460M835,850C870,800 910,780 960,790C1040,830 1100,880 1160,878C1260,865 1400,800 1568,560M835,890C870,840 900,820 950,825C1030,860 1100,910 1165,905C1260,895 1380,810 1568,600M835,940C860,920 890,880 950,880C1020,885 1100,920 1170,930L1205,915M947,975C980,950 1010,910 1050,910C1090,920 1130,935 1170,925M1355,878L1500,720M1500,840C1530,790 1568,770 1568,760M1550,860L1568,830"/>
<path class="m" d="M835,765C870,730 900,715 950,735L1000,770M1085,810C1120,830 1140,828 1160,825C1250,815 1350,790 1400,735L1568,480M835,790C870,750 900,730 950,750C1020,790 1100,850 1160,840C1260,830 1380,790 1430,720L1568,510"/>
<path class="h" d="M1395,850C1450,810 1490,780 1505,745M1530,700L1568,640"/>
</g>
<!-- Z5 -->
<g transform="translate(1433,786) scale(.914,.501)">
<polygon points="0,745 0,640 150,590 370,590 330,690 280,740 200,745 100,770" style="fill:url(#pd);stroke:none"/>
<ellipse cx="235" cy="628" rx="4" ry="8"/><circle cx="90" cy="645" r="3" class="k"/><ellipse cx="180" cy="720" rx="4" ry="6"/>
<path d="M0,750C50,720 150,700 240,680C310,660 340,620 378,540M0,825C40,780 120,770 200,745C280,745 330,690 380,510"/>
<path class="m" d="M0,640C40,600 100,585 150,582"/>
<path d="M690,550L707,635M710,690L714,745"/><circle cx="708" cy="668" r="3" class="k"/>
<path d="M1310,400L1278,1040L1085,1148"/>
</g>
<!-- Z6 -->
<g transform="translate(2866,786) scale(.914,.501)">
<path d="M545,370L515,600L437,1085L265,1182"/>
<path class="h" d="M545,375C580,430 620,530 670,560M735,650L785,688"/>
<path d="M555,325C590,400 640,520 700,600C740,660 770,690 790,680M580,270C610,370 660,490 800,620M540,440C590,540 640,620 750,780M530,490C580,590 620,670 750,780M545,400C580,490 640,590 770,710"/>
<path class="dd" style="stroke-dasharray:60 22" d="M305,600L362,662"/>
<path class="m" d="M680,625L692,740M698,800L707,878"/>
<circle cx="697" cy="762" r="3" class="k"/><circle cx="290" cy="578" r="3" class="k"/>
</g>
</g>

<text transform="translate(951,1182) rotate(28)" font-size="31">570</text>
<text transform="translate(1401,1142) rotate(-52)" font-size="31">565</text>
<text transform="translate(2507,1320) rotate(-28)" font-size="35" font-weight="900">鐘辺橋</text>
<text transform="translate(3510,1092) rotate(40)" font-size="31" font-weight="700">560</text>
<text transform="translate(3181,1340) rotate(-28)" font-size="35" font-weight="900">馬場橋</text>
</svg>
</body></html>
